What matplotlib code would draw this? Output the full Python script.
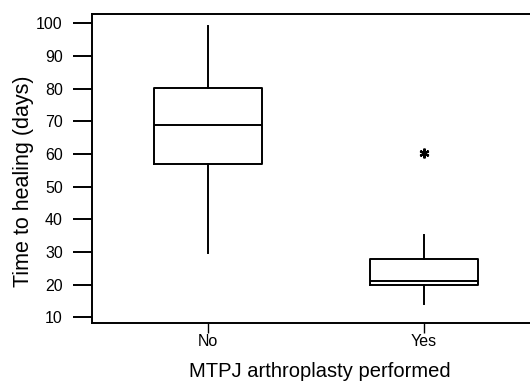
import matplotlib
matplotlib.use("Agg")
import matplotlib.pyplot as plt

plt.rcParams['font.family'] = ['Liberation Sans', 'DejaVu Sans']

categories = ["No", "Yes"]
whisker_low = [29.8, 14.1]
q1 = [57.0, 20.0]
medians = [68.8, 21.0]
q3 = [80.2, 28.0]
whisker_high = [99.2, 35.3]
outliers = [[], [60.2]]
yticks = [10, 20, 30, 40, 50, 60, 70, 80, 90, 100]

stats = []
for i, c in enumerate(categories):
    stats.append(dict(label=c, whislo=whisker_low[i], q1=q1[i], med=medians[i],
                      q3=q3[i], whishi=whisker_high[i], fliers=outliers[i]))

fig = plt.figure(figsize=(5.30, 3.83), dpi=100)
ax = fig.add_axes([92/530, 1 - 323/383, (530 - 92)/530, (323 - 14)/383])

lw = 1.4
ax.bxp(stats, positions=[1, 2], widths=0.5, showcaps=False,
       boxprops=dict(color='black', linewidth=lw),
       medianprops=dict(color='black', linewidth=lw),
       whiskerprops=dict(color='black', linewidth=lw),
       flierprops=dict(marker=(6, 2, 0), markersize=7, markeredgecolor='black',
                       markeredgewidth=1.6, linestyle='none'))

ax.set_xlim(0.463, 2.49)
ax.set_ylim(8.3, 102.8)
ax.set_yticks(yticks)
ax.set_xticks([1, 2])
ax.set_xticklabels(categories)
ax.spines['right'].set_visible(False)
for s in ['left', 'top', 'bottom']:
    ax.spines[s].set_linewidth(1.4)
ax.tick_params(axis='y', direction='out', length=14, width=1.4, labelsize=11.5, pad=7)
ax.tick_params(axis='x', direction='out', length=7, width=1.0, labelsize=11.5, pad=1)
ax.set_ylabel("Time to healing (days)", fontsize=15.5)
ax.yaxis.set_label_coords(-0.133, 0.46)
ax.set_xlabel("MTPJ arthroplasty performed", fontsize=14.5)
ax.xaxis.set_label_coords(0.52, -0.125)

fig.savefig("out.png", dpi=100)
